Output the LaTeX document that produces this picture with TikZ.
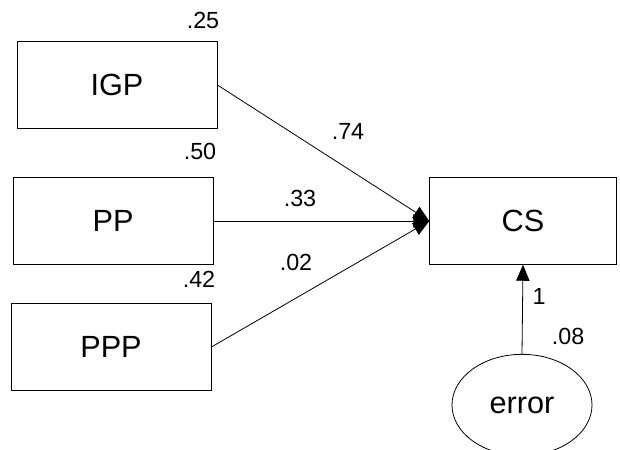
\documentclass[tikz,border=0pt]{standalone}
\usepackage{fontspec}
\setmainfont{Liberation Sans}
\usepackage{tikz}
\usetikzlibrary{shapes.geometric, arrows.meta, positioning}

\begin{document}
\begin{tikzpicture}[
    x=0.75pt, y=-0.75pt,
    var/.style={rectangle, draw=black, line width=0.6pt,
                minimum width=150pt, minimum height=65pt,
                font=\fontsize{23}{27}\selectfont},
    err/.style={ellipse, draw=black, line width=0.6pt,
                minimum width=105pt, minimum height=76pt,
                font=\fontsize{23}{27}\selectfont},
    est/.style={font=\fontsize{17.5}{20}\selectfont, inner sep=0pt},
    path/.style={-{Triangle[length=12pt, width=10pt]}, line width=0.6pt}
]
\useasboundingbox (0,0) rectangle (620,449);

% Observed predictors
\node[var] (igp) at (117,85)  {IGP};
\node[var] (pp)  at (113,221) {PP};
\node[var] (ppp) at (111,347) {PPP};

% Outcome
\node[var, minimum width=140pt] (cs) at (523,221) {CS};

% Residual
\node[err] (error) at (522,405) {error};

% Squared multiple correlations
\node[est] (r2igp) at (203,20)  {.25};
\node[est] (r2pp)  at (200,151) {.50};
\node[est] (r2ppp) at (199,279) {.42};
\node[est] (r2cs)  at (568,336) {.08};

% Regression paths
\draw[path] (igp.east) -- (cs.west);
\draw[path] (pp.east)  -- (cs.west);
\draw[path] (ppp.east) -- (cs.west);
\draw[path] (error.north) -- (cs.south);

% Path weights
\node[est] (bigp) at (348,131) {.74};
\node[est] (bpp)  at (300,198) {.33};
\node[est] (bppp) at (296,262) {.02};
\node[est] (berr) at (539,296) {1};

\end{tikzpicture}
\end{document}
